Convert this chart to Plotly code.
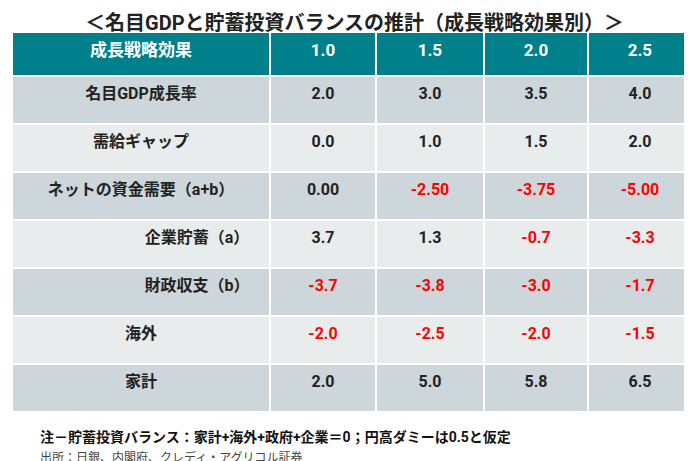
import plotly.graph_objects as go

header = ["成長戦略効果", "1.0", "1.5", "2.0", "2.5"]
row_labels = ["名目GDP成長率", "需給ギャップ", "ネットの資金需要（a+b）",
              "企業貯蓄（a）", "財政収支（b）", "海外", "家計"]
label_indent = [0, 0, 0, 7, 7, 0, 0]
col_10 = ["2.0", "0.0", "0.00", "3.7", "-3.7", "-2.0", "2.0"]
col_15 = ["3.0", "1.0", "-2.50", "1.3", "-3.8", "-2.5", "5.0"]
col_20 = ["3.5", "1.5", "-3.75", "-0.7", "-3.0", "-2.0", "5.8"]
col_25 = ["4.0", "2.0", "-5.00", "-3.3", "-1.7", "-1.5", "6.5"]

W, H = 692, 461
teal = "#00808A"
font_fam = "Roboto, Noto Sans CJK JP"
row_fill = ["#CDD6DA" if i % 2 == 0 else "#E9ECED" for i in range(len(row_labels))]

labels = ["\u3000" * n + t for t, n in zip(row_labels, label_indent)]
value_cols = [col_10, col_15, col_20, col_25]

def colors(col):
    return ["#FF0000" if v.startswith("-") else "#222222" for v in col]

fig = go.Figure(go.Table(
    domain=dict(x=[4 / W, 684 / W], y=[1 - 405 / H, 1 - 24 / H]),
    columnwidth=[258, 106, 108, 104, 104],
    header=dict(values=[f"<b>{h}</b>" for h in header], fill_color=teal,
                line=dict(color="white", width=2), height=44, align="center",
                font=dict(color="white", size=17, family=font_fam)),
    cells=dict(values=[[f"<b>{t}</b>" for t in labels]] + [[f"<b>{v}</b>" for v in c] for c in value_cols],
               fill_color=[row_fill] * 5,
               line=dict(color="white", width=2), height=48, align="center",
               font=dict(color=[["#222222"] * 7] + [colors(c) for c in value_cols],
                         size=16, family=font_fam)),
))

fig.add_annotation(x=0.5, y=1 - 15 / H, xref="paper", yref="paper", showarrow=False, yanchor="middle",
                   text="<b>＜名目GDPと貯蓄投資バランスの推計（成長戦略効果別）＞</b>",
                   font=dict(size=20, color="#222222", family=font_fam))
fig.add_annotation(x=30 / W, y=1 - 429 / H, xref="paper", yref="paper", showarrow=False,
                   xanchor="left", yanchor="middle",
                   text="<b>注－貯蓄投資バランス：家計+海外+政府+企業＝0；円高ダミーは0.5と仮定</b>",
                   font=dict(size=14, color="#111111", family=font_fam))
fig.add_annotation(x=30 / W, y=1 - 449 / H, xref="paper", yref="paper", showarrow=False,
                   xanchor="left", yanchor="middle",
                   text="出所：日銀、内閣府、クレディ・アグリコル証券",
                   font=dict(size=12, color="#444444", family=font_fam))

fig.update_layout(width=W, height=H, margin=dict(l=0, r=0, t=0, b=0),
                  paper_bgcolor="white")
fig.write_html("out.html")
